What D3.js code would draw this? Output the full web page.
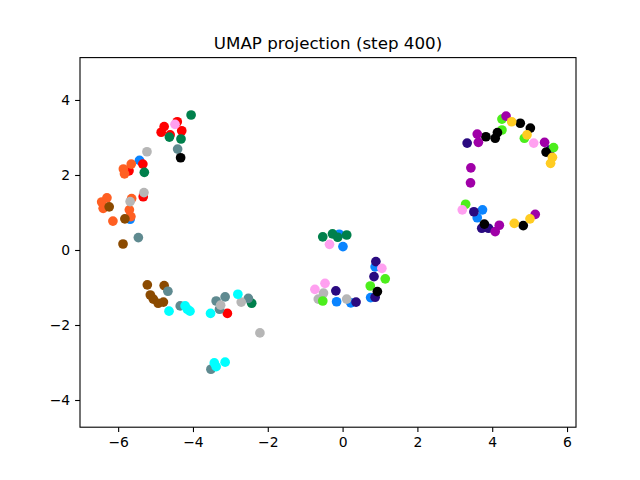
<!DOCTYPE html>
<html><head><meta charset="utf-8">
<script src="https://cdn.jsdelivr.net/npm/d3@7"></script>
<style>body{margin:0;background:#fff}svg{display:block}text{font-family:"DejaVu Sans",sans-serif}</style>
</head><body><svg id="c" width="640" height="480"></svg>
<script>
const title = "UMAP projection (step 400)";
const xTicks = [-6,-4,-2,0,2,4,6];
const yTicks = [-4,-2,0,2,4];
const seriesNames = ["blue","red","orange","brown","darkgreen","slate","silver","cyan","indigo","lime","black","magenta","gold","pink"];
const seriesColors = ["#0a84ff","#ff0000","#ff5f22","#8b4a00","#00804c","#5f8a90","#b6b6b6","#00ffff","#2a0a80","#4cee1c","#000000","#a000a8","#ffcc22","#ffa0f0"];
const blue = [[-5.43,2.39],[-5.68,0.82],[-0.09,0.42],[0.01,0.09],[0.87,-0.45],[0.75,-1.27],[-0.16,-1.38],[0.22,-1.41],[3.74,1.07],[3.60,0.86]];
const red = [[-4.42,3.42],[-4.77,3.29],[-4.30,3.18],[-4.85,3.14],[-4.61,3.07],[-5.34,2.29],[-5.71,2.11],[-5.33,1.42],[-3.08,-1.69]];
const orange = [[-5.65,2.29],[-5.86,2.16],[-5.83,2.03],[-6.30,1.39],[-6.44,1.28],[-6.40,1.11],[-5.64,1.37],[-5.70,1.07],[-5.66,0.89],[-6.14,0.77]];
const brown = [[-6.24,1.15],[-5.82,0.83],[-5.87,0.16],[-5.22,-0.93],[-4.77,-0.95],[-5.14,-1.20],[-5.06,-1.31],[-4.93,-1.42],[-4.79,-1.39]];
const darkgreen = [[-4.05,3.60],[-4.63,3.01],[-4.32,2.96],[-5.30,2.07],[-2.43,-1.42],[-0.53,0.35],[-0.27,0.43],[0.11,0.40],[-0.13,0.34]];
const slate = [[-4.41,2.69],[-5.46,0.33],[-4.67,-1.10],[-4.34,-1.49],[-3.38,-1.36],[-3.14,-1.25],[-3.29,-1.58],[-2.52,-1.29],[-3.52,-3.18]];
const silver = [[-5.23,2.62],[-5.31,1.53],[-5.68,1.29],[-3.26,-1.47],[-2.71,-1.39],[-2.21,-2.21],[-0.51,-1.15],[-0.65,-1.31],[0.11,-1.31]];
const cyan = [[-4.64,-1.63],[-4.21,-1.49],[-4.08,-1.63],[-4.15,-1.58],[-3.53,-1.69],[-2.80,-1.18],[-3.43,-3.01],[-3.14,-2.99],[-3.38,-3.11]];
const indigo = [[0.89,-0.31],[0.84,-0.71],[0.87,-1.26],[-0.18,-1.09],[0.36,-1.39],[5.55,2.67],[3.33,2.85],[3.51,1.02],[3.72,0.58],[3.90,0.58]];
const lime = [[1.14,-0.77],[0.74,-0.96],[-0.53,-1.36],[4.26,3.49],[4.86,2.98],[5.64,2.73],[4.26,3.20],[3.29,1.22]];
const black = [[-4.33,2.46],[0.93,-1.11],[4.75,3.38],[5.02,3.25],[4.14,3.13],[4.08,2.98],[3.83,3.02],[5.44,2.61],[3.79,0.69],[4.83,0.65]];
const magenta = [[4.37,3.57],[5.40,2.87],[3.60,3.09],[3.63,2.87],[3.43,2.19],[3.42,1.79],[4.08,0.49],[4.19,0.66],[5.15,0.95]];
const gold = [[4.52,3.42],[4.93,3.07],[5.61,2.47],[5.56,2.31],[4.59,0.71],[5.01,0.83]];
const pink = [[-4.48,3.35],[-0.35,0.15],[1.05,-0.49],[-0.47,-0.89],[-0.74,-1.05],[5.11,2.85],[3.20,1.07]];
const seriesData = [blue,red,orange,brown,darkgreen,slate,silver,cyan,indigo,lime,black,magenta,gold,pink];

const L=80,R=576,T=57.6,B=427.2;
const svg=d3.select("#c");
const x=d3.scaleLinear().domain([-7.02,6.24]).range([L,R]);
const y=d3.scaleLinear().domain([-4.725,5.13]).range([B,T]);
const fmt=d=>String(d).replace("-","\u2212");

const pts=[];
seriesData.forEach((arr,i)=>arr.forEach(p=>pts.push({x:p[0],y:p[1],c:seriesColors[i]})));
svg.append("g").selectAll("circle").data(pts).join("circle")
  .attr("cx",d=>x(d.x)).attr("cy",d=>y(d.y)).attr("r",4.85).attr("fill",d=>d.c);

const gx=svg.append("g").attr("transform",`translate(0,${B})`)
  .call(d3.axisBottom(x).tickValues(xTicks).tickFormat(fmt).tickSize(4.9).tickPadding(4.9));
const gy=svg.append("g").attr("transform",`translate(${L},0)`)
  .call(d3.axisLeft(y).tickValues(yTicks).tickFormat(fmt).tickSize(4.9).tickPadding(4.9));
[gx,gy].forEach(g=>{g.select(".domain").remove();g.selectAll("line").attr("stroke","#000").attr("stroke-width",1.1);
  g.selectAll("text").attr("font-size","13.9px").attr("fill","#000").attr("font-family","DejaVu Sans");});
svg.append("rect").attr("x",L).attr("y",T).attr("width",R-L).attr("height",B-T)
  .attr("fill","none").attr("stroke","#000").attr("stroke-width",1.1);
svg.append("text").attr("x",(L+R)/2).attr("y",T-8.5).attr("text-anchor","middle")
  .attr("font-size","16.7px").attr("fill","#000").text(title);
</script></body></html>
